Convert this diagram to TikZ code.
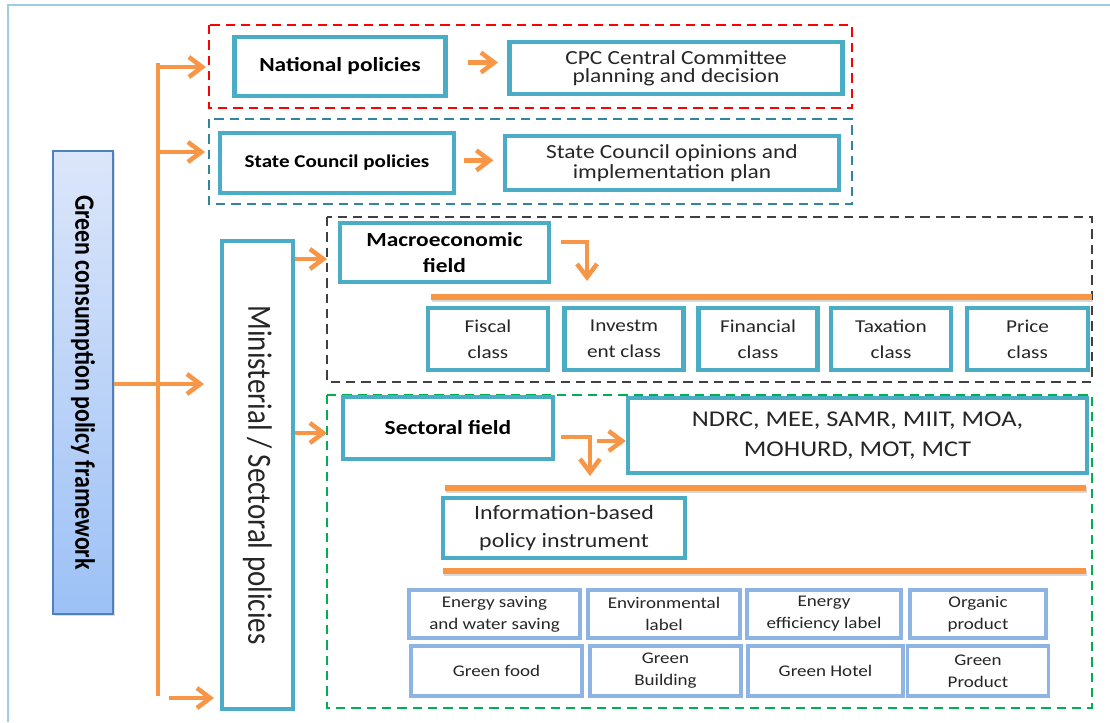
\documentclass[tikz,border=0pt]{standalone}
\usepackage{fontspec}
\usepackage{graphicx}
\setmainfont{Carlito}[FakeStretch=1.17]
\newfontfamily\rotfont{Carlito}[FakeStretch=0.855]
\usetikzlibrary{arrows.meta,shadows}
\definecolor{tealbox}{HTML}{4BACC6}
\definecolor{orng}{HTML}{F79646}
\definecolor{lbord}{HTML}{8EB4E3}
\definecolor{gbord}{HTML}{4F81BD}
\definecolor{gtop}{HTML}{DCE6FA}
\definecolor{gbot}{HTML}{9CC1F6}
\definecolor{frame}{HTML}{9BCFDF}
\definecolor{tealdash}{HTML}{31859C}
\definecolor{greydash}{HTML}{404040}
\definecolor{greendash}{HTML}{00B050}
\definecolor{txt}{HTML}{262626}
\tikzset{
  sz/.style 2 args={minimum width=#1*0.75pt, minimum height=#2*0.75pt},
  tbox/.style={draw=tealbox, line width=3.3pt, fill=white, inner sep=0pt, align=center, text=txt,
    drop shadow={opacity=0.22, shadow xshift=1.3pt, shadow yshift=-1.3pt}},
  bbox/.style={draw=lbord, line width=2.3pt, fill=white, inner sep=0pt, align=center, text=txt,
    font=\fontsize{12.2}{16.5}\selectfont},
  cbox/.style={tbox, font=\fontsize{13.6}{19.5}\selectfont},
  oarr/.style={draw=orng, line width=3.4pt, -{Straight Barb[length=10pt,width=15pt]}},
  oline/.style={draw=orng, line width=3.4pt},
  obar/.style={draw=orng, line width=3.8pt,
    preaction={draw=black, opacity=0.15, line width=3.8pt, transform canvas={xshift=1pt,yshift=-1.5pt}}},
  dbox/.style={line width=1.6pt, dash pattern=on 7pt off 4.5pt},
}
\begin{document}
\begin{tikzpicture}[x=0.75pt,y=-0.75pt]
\useasboundingbox (0,0) rectangle (1110,722);
% outer frame (partially visible)
\draw[frame, line width=2pt] (1110,5) -- (8,5) -- (8,722);

% dashed group frames
\draw[dbox, draw=red] (209,25) rectangle (852,108);
\draw[dbox, draw=tealdash] (209,119) rectangle (852,204);
\draw[dbox, draw=greydash, line width=1.9pt] (327,217) rectangle (1092,382);
\draw[dbox, draw=greendash] (327,395) rectangle (1092,708);

% left root box
\node[draw=gbord, line width=1.6pt, top color=gtop, bottom color=gbot, inner sep=0pt,
      sz={60}{463}, drop shadow={opacity=0.25, shadow xshift=1.3pt, shadow yshift=-1.3pt}]
      (gcp) at (83,382.5) {\rotatebox{-90}{\rotfont\fontsize{21}{24}\selectfont\bfseries Green consumption policy framework}};

% ministerial box
\node[tbox, sz={71}{468}] (min) at (257.5,475)
      {\rotatebox{-90}{\rotfont\fontsize{25.4}{28}\selectfont Ministerial / Sectoral policies}};

% top level boxes
\node[tbox, text=black, sz={211}{59}, font=\fontsize{15}{18}\selectfont\bfseries] (nat) at (340,66.5) {National policies};
\node[tbox, sz={333}{52}, font=\fontsize{15}{13.5}\selectfont] (cpc) at (676,68) {CPC Central Committee\\planning and decision};
\node[tbox, text=black, sz={234}{60}, font=\fontsize{13.5}{16}\selectfont\bfseries] (scp) at (337,163) {State Council policies};
\node[tbox, sz={334}{54}, font=\fontsize{15}{15}\selectfont] (sco) at (672,163) {State Council opinions and\\implementation plan};

% macroeconomic field
\node[tbox, text=black, sz={209}{59}, font=\fontsize{15}{20}\selectfont\bfseries] (mac) at (444.5,252.5) {Macroeconomic\\field};
\node[cbox, sz={120}{62}] (fis) at (488,339) {Fiscal\\class};
\node[cbox, sz={119}{62}] (inv) at (624,339) {Investm\\ent class};
\node[cbox, sz={119}{62}] (fin) at (758,339) {Financial\\class};
\node[cbox, sz={120}{62}] (tax) at (891,339) {Taxation\\class};
\node[cbox, sz={121}{62}] (pri) at (1027.5,339) {Price\\class};

% sectoral field
\node[tbox, text=black, sz={210}{62}, font=\fontsize{15}{18}\selectfont\bfseries] (sec) at (448,428) {Sectoral field};
\node[tbox, sz={459}{75}, font=\fontsize{16.9}{22.5}\selectfont] (ndrc) at (857.5,435.5) {NDRC, MEE, SAMR, MIIT, MOA,\\MOHURD, MOT, MCT};
\node[tbox, sz={242}{60}, font=\fontsize{15.3}{21}\selectfont] (info) at (564,528) {Information-based\\policy instrument};

% information-based instruments
\node[bbox, sz={171}{48}] (b11) at (494.5,614) {Energy saving\\and water saving};
\node[bbox, sz={152}{48}] (b12) at (664,614) {Environmental\\label};
\node[bbox, sz={154}{48}] (b13) at (824,614) {Energy\\efficiency label};
\node[bbox, sz={136}{48}] (b14) at (978,614) {Organic\\product};
\node[bbox, sz={171}{50}] (b21) at (496.5,671) {Green food};
\node[bbox, sz={151}{50}] (b22) at (665.5,671) {Green\\Building};
\node[bbox, sz={155}{50}] (b23) at (825.5,671) {Green Hotel};
\node[bbox, sz={141}{50}] (b24) at (978,671) {Green\\Product};

% orange bars
\coordinate (bar1a) at (431,297); \coordinate (bar1b) at (1092,297);
\coordinate (bar2a) at (445,488); \coordinate (bar2b) at (1086,488);
\coordinate (bar3a) at (443,571); \coordinate (bar3b) at (1086,571);
\draw[obar] (bar1a) -- (bar1b);
\draw[obar] (bar2a) -- (bar2b);
\draw[obar] (bar3a) -- (bar3b);

% trunk and branches
\coordinate (ttop) at (158,63);
\coordinate (tbot) at (158,696);
\draw[oline] (ttop) -- (tbot);
\coordinate (a1s) at (158,67);  \coordinate (a1e) at (206,67);
\coordinate (a2s) at (158,152); \coordinate (a2e) at (205,152);
\coordinate (a3e) at (204,384);
\coordinate (a4s) at (169,698); \coordinate (a4e) at (214,698);
\draw[oarr] (a1s) -- (a1e);
\draw[oarr] (a2s) -- (a2e);
\draw[oarr] (gcp.east |- a3e) -- (a3e);
\draw[oarr] (a4s) -- (a4e);

% ministerial to fields
\coordinate (m1e) at (327,259);
\coordinate (m2e) at (327,433);
\draw[oarr] (min.east |- m1e) -- (m1e);
\draw[oarr] (min.east |- m2e) -- (m2e);

% policy to implementation
\draw[oarr, shorten <=15pt, shorten >=7pt] ([yshift=3pt]nat.east) -- ([yshift=3pt]nat.east -| cpc.west);
\draw[oarr, shorten <=6pt, shorten >=7pt] ([yshift=2pt]scp.east) -- ([yshift=2pt]scp.east -| sco.west);

% macro elbow
\coordinate (mc) at (587,242);
\coordinate (mt) at (587,281);
\draw[oarr, shorten <=7.5pt] (mac.east |- mc) -- (mc) -- (mt);

% sectoral elbow and right arrow
\coordinate (sc) at (590,437);
\coordinate (st) at (590,476);
\draw[oarr, shorten <=4.5pt] (sec.east |- sc) -- (sc) -- (st);
\coordinate (s2) at (597,441);
\draw[oarr] (s2) -- (s2 -| ndrc.west);
\end{tikzpicture}
\end{document}
